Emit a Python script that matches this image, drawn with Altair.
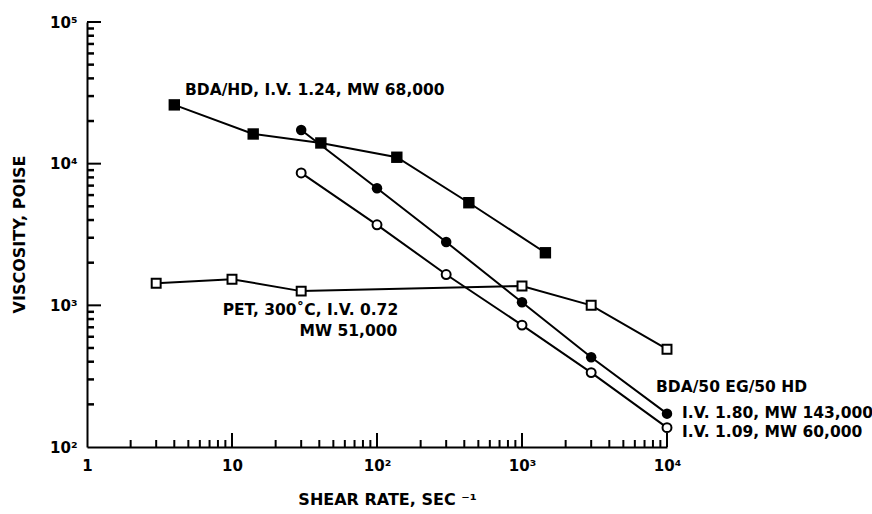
import altair as alt
import pandas as pd

# Data
hd_x = [4, 14, 41, 137, 430, 1450]
hd_y = [26000, 16200, 14000, 11100, 5300, 2350]

eg180_x = [30, 100, 300, 1000, 3000, 10000]
eg180_y = [17300, 6700, 2800, 1050, 430, 172]

eg109_x = [30, 100, 300, 1000, 3000, 10000]
eg109_y = [8600, 3700, 1650, 725, 335, 137]

pet_x = [3, 10, 30, 1000, 3000, 10000]
pet_y = [1430, 1530, 1260, 1370, 1000, 490]

x_major = [1, 10, 100, 1000, 10000]
y_major = [100, 1000, 10000, 100000]

ann_text = ["BDA/HD, I.V. 1.24, MW 68,000", "PET, 300\u02daC, I.V. 0.72", "MW 51,000",
            "BDA/50 EG/50 HD", "I.V. 1.80, MW 143,000", "I.V. 1.09, MW 60,000"]
ann_x = [4.74, 140, 138, 8400, 12700, 12700]
ann_y = [33000, 930, 660, 265, 174, 128]
ann_align = ["left", "right", "right", "left", "left", "left"]

W, H = 580, 425
FONT = "DejaVu Sans"

xs = alt.Scale(type="log", domain=[1, 10000])
ys = alt.Scale(type="log", domain=[100, 100000])

def series(xv, yv, name):
    return pd.DataFrame({"x": xv, "y": yv, "s": name})

df_hd = series(hd_x, hd_y, "hd")
df_180 = series(eg180_x, eg180_y, "eg180")
df_109 = series(eg109_x, eg109_y, "eg109")
df_pet = series(pet_x, pet_y, "pet")

x_sup = {1: "1", 10: "10", 100: "10\u00b2", 1000: "10\u00b3", 10000: "10\u2074"}
y_sup = {100: "10\u00b2", 1000: "10\u00b3", 10000: "10\u2074", 100000: "10\u2075"}
x_expr = " : ".join([f"datum.value == {k} ? '{v}'" for k, v in x_sup.items()]) + " : ''"
y_expr = " : ".join([f"datum.value == {k} ? '{v}'" for k, v in y_sup.items()]) + " : ''"

AX = alt.Axis(
    values=x_major, labelExpr=x_expr, ticks=False, grid=False,
    domainColor="black", domainWidth=2, labelFont=FONT, labelFontSize=15,
    labelFontWeight="bold", labelColor="black", labelPadding=11,
    title="SHEAR RATE, SEC \u207b\u00b9", titleFont=FONT, titleFontSize=16,
    titleFontWeight="bold", titleColor="black", titleX=300, titleY=52,
    titleBaseline="middle", labelFlush=False)
AY = alt.Axis(
    values=y_major, labelExpr=y_expr, ticks=False, grid=False,
    domainColor="black", domainWidth=2, labelFont=FONT, labelFontSize=15,
    labelFontWeight="bold", labelColor="black", labelPadding=10,
    title="VISCOSITY, POISE", titleFont=FONT, titleFontSize=16,
    titleFontWeight="bold", titleColor="black", titleX=-68, titleY=212,
    titleBaseline="middle", titleAngle=270, labelFlush=False)

X = lambda: alt.X("x:Q", scale=xs, axis=AX)
Y = lambda: alt.Y("y:Q", scale=ys, axis=AY)

base_axes = alt.Chart(pd.DataFrame({"x": [1, 10000], "y": [100, 100000]})).mark_point(opacity=0).encode(
    x=X(), y=Y())

# inward ticks
minor_x = [m * d for d in [1, 10, 100, 1000] for m in range(2, 10)]
minor_y = [m * d for d in [100, 1000, 10000] for m in range(2, 10)]
tx_major = alt.Chart(pd.DataFrame({"x": x_major[1:]})).mark_rule(color="black", strokeWidth=2).encode(
    x=X(), y=alt.value(H), y2=alt.value(H - 14))
tx_minor = alt.Chart(pd.DataFrame({"x": minor_x})).mark_rule(color="black", strokeWidth=2).encode(
    x=X(), y=alt.value(H), y2=alt.value(H - 7))
ty_major = alt.Chart(pd.DataFrame({"y": y_major[1:]})).mark_rule(color="black", strokeWidth=2).encode(
    y=Y(), x=alt.value(0), x2=alt.value(14))
ty_minor = alt.Chart(pd.DataFrame({"y": minor_y})).mark_rule(color="black", strokeWidth=2.5).encode(
    y=Y(), x=alt.value(0), x2=alt.value(7))

def line(df):
    return alt.Chart(df).mark_line(color="black", strokeWidth=2).encode(x=X(), y=Y())

def pts(df, shape, filled, size):
    return alt.Chart(df).mark_point(shape=shape, filled=filled, size=size, color="black",
                                    fill="black" if filled else "white",
                                    strokeWidth=2, opacity=1,
                                    fillOpacity=1).encode(x=X(), y=Y())

ann = alt.Chart(pd.DataFrame({"x": ann_x, "y": ann_y, "t": ann_text, "a": ann_align}))
ann_left = ann.transform_filter("datum.a == 'left'").mark_text(
    align="left", baseline="middle", font=FONT, fontSize=15.5, fontWeight="bold", color="black"
).encode(x=X(), y=Y(), text="t:N")
ann_right = ann.transform_filter("datum.a == 'right'").mark_text(
    align="right", baseline="middle", font=FONT, fontSize=15.5, fontWeight="bold", color="black"
).encode(x=X(), y=Y(), text="t:N")

chart = alt.layer(
    base_axes, tx_major, tx_minor, ty_major, ty_minor,
    line(df_hd), line(df_180), line(df_109), line(df_pet),
    pts(df_hd, "square", True, 130),
    pts(df_180, "circle", True, 110),
    pts(df_109, "circle", False, 80),
    pts(df_pet, "square", False, 80),
    ann_left, ann_right,
).properties(
    width=W, height=H,
    autosize=alt.AutoSizeParams(type="none"),
    padding={"left": 87, "top": 22, "right": 205, "bottom": 67},
    background="white",
).configure_view(stroke=None)

chart.save("out.html", embed_options={"renderer": "svg", "actions": False})
